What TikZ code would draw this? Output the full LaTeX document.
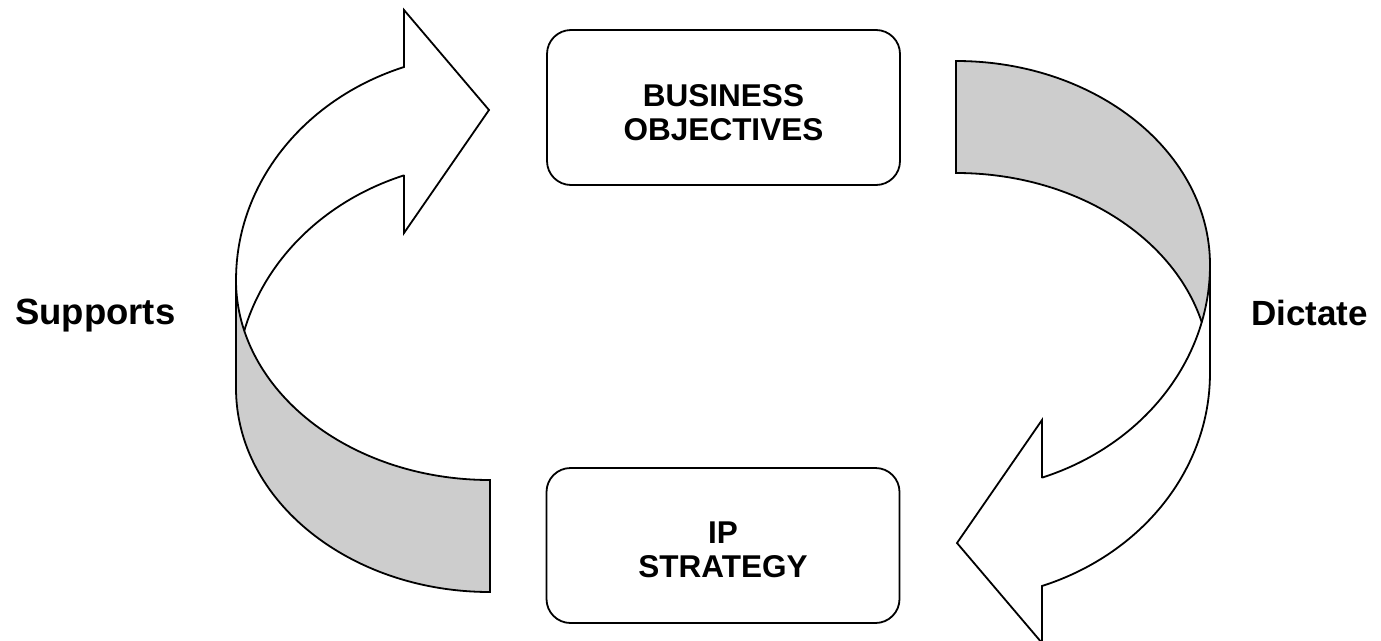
\documentclass[tikz,border=0pt]{standalone}
\usepackage{fontspec}
\setmainfont{Liberation Sans}
\definecolor{bandgray}{RGB}{205,205,205}
\begin{document}
\begin{tikzpicture}[x=1pt,y=-1pt,
  outl/.style={draw=black,line width=1.8pt,line join=miter},
  bandfront/.style={outl,fill=white},
  bandback/.style={outl,fill=bandgray},
  goalbox/.style={draw=black,line width=1.8pt,rounded corners=24pt,minimum width=353pt,minimum height=155pt,inner sep=0pt,fill=white},
  boxtext/.style={align=center,inner sep=0pt,font=\bfseries\fontsize{31.5}{34}\selectfont},
  sidelabel/.style={inner sep=0pt,font=\bfseries\fontsize{36.5}{40}\selectfont}]
\useasboundingbox (0,0) rectangle (1381,640);
\clip (0,0) rectangle (1381,640);

% left curved arrow (Supports): front part first, back band on top
\path[bandfront] (404,175) -- (404,233) -- (489,110) -- (404,10) -- (404,67)
  arc[start angle=250.2,end angle=180,x radius=254,y radius=226] -- (236,388)
  arc[start angle=180,end angle=250.2,x radius=254,y radius=226] -- cycle;
\path[bandback] (236,280) arc[start angle=180,end angle=90,x radius=254,y radius=200]
  -- (490,592) arc[start angle=90,end angle=180,x radius=254,y radius=204] -- cycle;

% right curved arrow (Dictate): back band first, front part on top
\begin{scope}[rotate around={180:(723,326.5)}]
\path[bandback] (236,280) arc[start angle=180,end angle=90,x radius=254,y radius=200]
  -- (490,592) arc[start angle=90,end angle=180,x radius=254,y radius=204] -- cycle;
\path[bandfront] (404,175) -- (404,233) -- (489,110) -- (404,10) -- (404,67)
  arc[start angle=250.2,end angle=180,x radius=254,y radius=226] -- (236,388)
  arc[start angle=180,end angle=250.2,x radius=254,y radius=226] -- cycle;
\end{scope}

% boxes
\node[goalbox] (bo) at (723.5,107.5) {};
\node[boxtext] (botext) at (723.5,113) {BUSINESS\\OBJECTIVES};
\node[goalbox] (ips) at (723,545.5) {};
\node[boxtext] (ipstext) at (723,550) {IP\\STRATEGY};

% side labels
\node[sidelabel,anchor=base west] (sup) at (15,324) {Supports};
\node[sidelabel,font=\bfseries\fontsize{35}{40}\selectfont,anchor=base east] (dic) at (1368,325) {Dictate};
\end{tikzpicture}
\end{document}
